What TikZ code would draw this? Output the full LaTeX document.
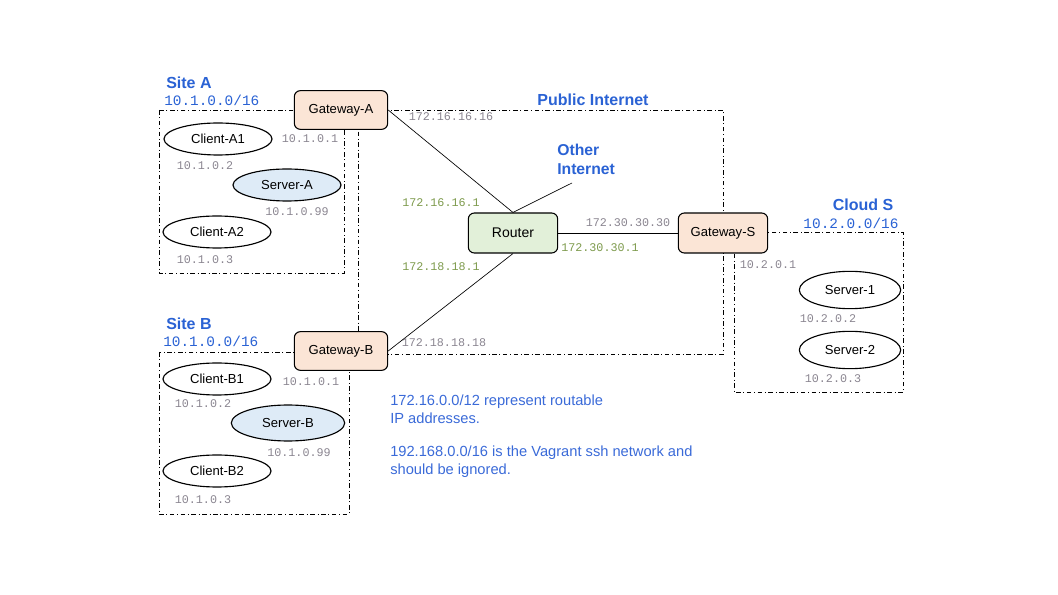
\documentclass[tikz,border=0pt]{standalone}
\usepackage{fontspec}
\usetikzlibrary{shapes.geometric}
\setmainfont{Liberation Sans}
\setmonofont{Liberation Mono}
\definecolor{gwfill}{HTML}{FBE5D6}
\definecolor{rtfill}{HTML}{E2F0D9}
\definecolor{srvfill}{HTML}{DEEBF7}
\definecolor{netblue}{HTML}{2A62D4}
\definecolor{noteblue}{HTML}{3A6AD8}
\definecolor{ipgray}{HTML}{8A8590}
\definecolor{ipgreen}{HTML}{7D9A4C}
\begin{document}
\begin{tikzpicture}[x=0.75pt, y=-0.75pt,
	box/.style={draw, line width=0.8pt, rounded corners=4.5pt, minimum width=70pt, minimum height=29pt, font=\fontsize{9.8}{11}\selectfont},
	host/.style={draw, ellipse, line width=0.85pt, minimum width=81pt, minimum height=24pt, inner sep=0pt, font=\fontsize{9.8}{11}\selectfont},
	zone/.style={line width=0.6pt, dash pattern=on 3.5pt off 2pt on 0.6pt off 2pt},
	ip/.style={font=\ttfamily\fontsize{8.8}{10}\selectfont, text=ipgray, inner sep=0pt},
	ipr/.style={font=\ttfamily\fontsize{8.8}{10}\selectfont, text=ipgreen, inner sep=0pt},
	net/.style={font=\ttfamily\fontsize{10.8}{12}\selectfont, text=netblue, anchor=west, inner sep=0pt},
	title/.style={font=\bfseries\fontsize{12}{14}\selectfont, text=netblue, inner sep=0pt},
	note/.style={font=\fontsize{11}{13.5}\selectfont, text=noteblue, align=left, anchor=north west, inner sep=0pt}]
	\useasboundingbox (0,0) rectangle (1058,595);

	% Zones
	\draw[zone] (159,110) rectangle (344,273);
	\draw[zone] (159,352) rectangle (349,514);
	\draw[zone] (358,110) rectangle (723,354);
	\draw[zone] (734,232) rectangle (903,392);

	% Site A
	\node[title, anchor=west] (siteA) at (166,83) {Site A};
	\node[net] (netA) at (164,100) {10.1.0.0/16};
	\node[box, fill=gwfill] (gwA) at (341,110) {Gateway-A};
	\node[host] (clA1) at (218,139) {Client-A1};
	\node[host, fill=srvfill] (srvA) at (287,185) {Server-A};
	\node[host] (clA2) at (217,232) {Client-A2};
	\node[ip] (ipgwA) at (310,139) {10.1.0.1};
	\node[ip] (ipclA1) at (205,166) {10.1.0.2};
	\node[ip] (ipsrvA) at (297,212) {10.1.0.99};
	\node[ip] (ipclA2) at (205,260) {10.1.0.3};

	% Site B
	\node[title, anchor=west] (siteB) at (166,324) {Site B};
	\node[net] (netB) at (163,341) {10.1.0.0/16};
	\node[box, fill=gwfill] (gwB) at (341,351) {Gateway-B};
	\node[host] (clB1) at (217,379) {Client-B1};
	\node[host, fill=srvfill, minimum width=85pt, minimum height=27pt] (srvB) at (288,423) {Server-B};
	\node[host] (clB2) at (217,471) {Client-B2};
	\node[ip] (ipgwB) at (311,382) {10.1.0.1};
	\node[ip] (ipclB1) at (203,404) {10.1.0.2};
	\node[ip] (ipsrvB) at (299,453) {10.1.0.99};
	\node[ip] (ipclB2) at (203,500) {10.1.0.3};

	% Public Internet
	\node[title] (pub) at (593,100) {Public Internet};
	\node[box, fill=rtfill, minimum width=67pt, minimum height=30pt, font=\fontsize{10.5}{12}\selectfont] (router) at (513,233) {Router};
	\node[title, anchor=north west, align=left, font=\bfseries\fontsize{11.8}{14}\selectfont] (other) at (557,144) {Other\\Internet};
	\coordinate (otherEnd) at (572,183);
	\node[ip] (ipA16) at (451,117) {172.16.16.16};
	\node[ipr] (ipR16) at (441,203) {172.16.16.1};
	\node[ipr] (ipR18) at (441,267) {172.18.18.1};
	\node[ip] (ipB18) at (444,343) {172.18.18.18};
	\node[ip] (ipS30) at (628,223) {172.30.30.30};
	\node[ipr] (ipR30) at (600,248) {172.30.30.1};

	% Cloud S
	\node[title] (cloudS) at (863,205) {Cloud S};
	\node[net, anchor=center] (netS) at (851,223) {10.2.0.0/16};
	\node[box, fill=gwfill, minimum width=67pt, minimum height=30pt] (gwS) at (723,233) {Gateway-S};
	\node[host, minimum width=76pt, minimum height=28pt] (srv1) at (850,290) {Server-1};
	\node[host, minimum width=76pt, minimum height=28pt] (srv2) at (850,350) {Server-2};
	\node[ip] (ipgwS) at (768,265) {10.2.0.1};
	\node[ip] (ipsrv1) at (828,319) {10.2.0.2};
	\node[ip] (ipsrv2) at (833,379) {10.2.0.3};

	% Links
	\draw[line width=0.5pt] (gwA.east) -- (router.north);
	\draw[line width=0.5pt] (router.south) -- (gwB.east);
	\draw[line width=0.5pt] (router.north) -- (otherEnd);
	\draw[line width=0.7pt] (router.east) -- (gwS.west);

	% Notes
	\node[note] (note1) at (390,395) {172.16.0.0/12 represent routable\\IP addresses.};
	\node[note] (note2) at (390,446) {192.168.0.0/16 is the Vagrant ssh network and\\should be ignored.};
\end{tikzpicture}
\end{document}
